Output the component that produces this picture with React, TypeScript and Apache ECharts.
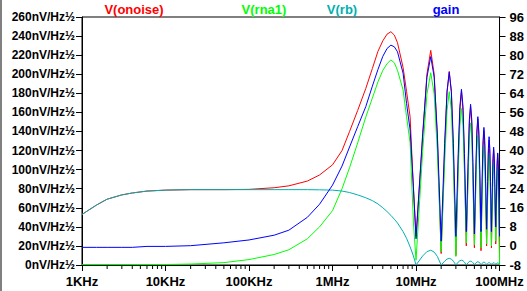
import React, { useEffect, useRef } from "react";
import * as echarts from "echarts";

const FREQ = [
  1e3, 1.5e3, 2e3, 3e3, 4e3, 6e3, 1e4, 2e4, 5e4, 1e5, 2e5, 3e5, 5e5, 7e5, 1e6, 1.3e6, 1.6e6, 2e6, 2.5e6, 3e6,
  3.5e6, 4e6, 4.5e6, 5e6, 5.5e6, 6e6, 7e6, 7.7e6, 8.5e6, 9.3e6, 1e7,
  1.2e7, 1.35e7, 1.5e7, 1.65e7, 1.8e7, 2e7,
  2.2e7, 2.35e7, 2.5e7, 2.65e7, 2.8e7, 3e7,
  3.2e7, 3.35e7, 3.5e7, 3.65e7, 3.8e7, 4e7,
  4.2e7, 4.35e7, 4.5e7, 4.65e7, 4.8e7, 5e7,
  5.2e7, 5.35e7, 5.5e7, 5.65e7, 5.8e7, 6e7,
  6.2e7, 6.35e7, 6.5e7, 6.65e7, 6.8e7, 7e7,
  7.2e7, 7.35e7, 7.5e7, 7.65e7, 7.8e7, 8e7,
  8.2e7, 8.35e7, 8.5e7, 8.65e7, 8.8e7, 9e7,
  9.2e7, 9.35e7, 9.5e7, 9.65e7, 9.8e7, 1e8,
];

// V(onoise) nV/Hz½
const ONOISE = [
  53, 63, 69, 73.5, 75.5, 77.5, 78.5, 79, 79, 79.3, 81, 83, 88, 94.4, 105, 120, 140, 162, 185, 206,
  224, 235, 242, 244.6, 241, 233, 207, 182, 155, 80, 30,
  133, 200, 225, 200, 133, 12,
  120, 181, 203, 181, 120, 10,
  107, 162, 182, 162, 107, 20,
  98, 148, 166, 148, 98, 18,
  90, 136, 153, 136, 90, 15,
  83, 125, 141, 125, 83, 20,
  77, 117, 131, 117, 77, 18,
  71, 108, 121, 108, 71, 22,
  68, 103, 116, 103, 68, 5,
];

// V(rna1) nV/Hz½
const RNA1 = [
  0.3, 0.3, 0.3, 0.3, 0.3, 0.4, 0.5, 1, 2.5, 5.7, 11, 16, 27.5, 40, 57, 80, 102, 128, 155, 175,
  192, 204, 211, 215, 212, 204, 183.5, 155.5, 128, 45, 5,
  119, 179, 201.6, 179, 119, 14,
  107, 162, 181.7, 162, 107, 9,
  97, 146, 164, 146, 97, 23,
  88, 133, 149, 133, 88, 21,
  80, 121, 136, 121, 80, 18,
  74, 111, 125, 111, 74, 22,
  68, 103, 116, 103, 68, 20,
  63, 95, 107, 95, 63, 25,
  60, 90, 101, 90, 60, 0,
];

// V(rb) nV/Hz½
const RB = [
  53, 63, 69, 73.5, 75.5, 77.5, 78.5, 79, 79, 79, 79, 79, 79, 78.8, 78.5, 77.5, 76, 73.5, 70.5, 67.5,
  64, 60, 56, 52, 48, 44, 35, 28, 19, 9.5, 0,
  9.5, 14, 15.5, 13.5, 9, 0,
  4, 6.2, 7, 6.2, 4, 0,
  3, 4.5, 5, 4.5, 3, 0,
  2.4, 3.6, 4, 3.6, 2.4, 0.5,
  2, 3.1, 3.5, 3.1, 2, 0.5,
  1.8, 2.7, 3, 2.7, 1.8, 0.8,
  1.5, 2.2, 2.5, 2.2, 1.5, 1,
  1.5, 2.2, 2.5, 2.2, 1.5, 1,
  1.5, 2, 2, 2, 1.5, 2,
];

// gain (right axis)
const GAIN = [
  -0.6, -0.6, -0.6, -0.6, -0.6, -0.2, -0.2, 0.1, 1.3, 2.5, 4.5, 6.6, 12, 17.5, 25.5, 33.5, 41.5, 50, 58.4, 67,
  74, 79.5, 82.8, 84.2, 83.5, 81.4, 72.4, 59.8, 48.6, 25, 3,
  47, 70.7, 79.4, 70.7, 47, 2,
  43, 64.8, 72.8, 64.8, 43, 4,
  38.8, 58.5, 65.7, 58.5, 38.8, 6,
  35, 52.9, 59.4, 52.9, 35, 5,
  32, 48.2, 54.2, 48.2, 32, 6,
  29.3, 44.2, 49.7, 44.2, 29.3, 7,
  27, 40.8, 45.8, 40.8, 27, 6,
  24.4, 36.8, 41.4, 36.8, 24.4, 8,
  23, 34.7, 39, 34.7, 23, 4,
];

const X_LABELS: Record<string, string> = {
  "1000": "1KHz",
  "10000": "10KHz",
  "100000": "100KHz",
  "1000000": "1MHz",
  "10000000": "10MHz",
  "100000000": "100MHz",
};

const LEGEND = [
  { name: "V(onoise)", color: "#ff0000", x: 134 },
  { name: "V(rna1)", color: "#00ff00", x: 264 },
  { name: "V(rb)", color: "#00b0b0", x: 342 },
  { name: "gain", color: "#0000ff", x: 446 },
];

const FONT = "'Liberation Sans', Arial, sans-serif";

export default function App() {
  const ref = useRef<HTMLDivElement>(null);
  useEffect(() => {
    if (!ref.current) return;
    const chart = echarts.init(ref.current, null, { renderer: "svg" });
    const pair = (vals: number[]) => FREQ.map((f, i) => [f, vals[i]]);
    const minor: number[][] = [];
    for (let k = 3; k < 8; k++) for (let d = 2; d <= 9; d++) minor.push([d * Math.pow(10, k), 0]);
    const lineSeries = (name: string, vals: number[], color: string, yIdx: number) => ({
      name,
      type: "line",
      yAxisIndex: yIdx,
      data: pair(vals),
      showSymbol: false,
      symbol: "none",
      lineStyle: { color, width: 1 },
      itemStyle: { color },
      silent: true,
    });
    chart.setOption({
      animation: false,
      backgroundColor: "#ffffff",
      grid: { left: 82, right: 27, top: 17, bottom: 26, show: true, borderColor: "#000", borderWidth: 1 },
      xAxis: {
        type: "log",
        logBase: 10,
        min: 1e3,
        max: 1e8,
        axisLine: { show: true, lineStyle: { color: "#000", width: 1 } },
        axisTick: { show: true, length: 6, lineStyle: { color: "#000" } },
        splitLine: { show: false },
        axisLabel: {
          color: "#000",
          fontFamily: FONT,
          fontWeight: "bold",
          fontSize: 13,
          margin: 10,
          formatter: (v: number) => X_LABELS[String(Math.round(v))] ?? "",
        },
      },
      yAxis: [
        {
          type: "value",
          min: 0,
          max: 260,
          interval: 20,
          axisLine: { show: true, lineStyle: { color: "#000" } },
          axisTick: { show: true, length: 6, lineStyle: { color: "#000" } },
          splitLine: { show: false },
          axisLabel: {
            color: "#000",
            fontFamily: FONT,
            fontWeight: "bold",
            fontSize: 12,
            margin: 7,
            formatter: (v: number) => `${v}nV/Hz½`,
          },
        },
        {
          type: "value",
          min: -8,
          max: 96,
          interval: 8,
          position: "right",
          axisLine: { show: true, lineStyle: { color: "#000" } },
          axisTick: { show: true, length: 6, lineStyle: { color: "#000" } },
          splitLine: { show: false },
          axisLabel: {
            color: "#000",
            fontFamily: FONT,
            fontWeight: "bold",
            fontSize: 13,
            margin: 10,
          },
        },
      ],
      series: [
        lineSeries("V(onoise)", ONOISE, "#ff0000", 0),
        lineSeries("V(rna1)", RNA1, "#00ff00", 0),
        lineSeries("V(rb)", RB, "#00b0b0", 0),
        lineSeries("gain", GAIN, "#0000ff", 1),
        {
          type: "custom",
          silent: true,
          clip: false,
          data: minor,
          renderItem: (_p: any, api: any) => {
            const pt = api.coord([api.value(0), 0]);
            return {
              type: "line",
              shape: { x1: pt[0], y1: pt[1], x2: pt[0], y2: pt[1] + 4 },
              style: { stroke: "#000", lineWidth: 1 },
            };
          },
        },
      ],
      graphic: [
        { type: "rect", left: 0, top: 0, shape: { x: 0, y: 0, width: 2, height: 291 }, style: { fill: "#808080" }, silent: true },
        ...LEGEND.map((l) => ({
          type: "text",
          x: l.x,
          y: 9,
          silent: true,
          style: {
            text: l.name,
            fill: l.color,
            font: `bold 13px ${FONT}`,
            textAlign: "center",
            textVerticalAlign: "middle",
          },
        })),
      ],
    });
    return () => chart.dispose();
  }, []);
  return <div ref={ref} style={{ position: "fixed", left: 0, top: 0, width: 527, height: 291 }} />;
}
